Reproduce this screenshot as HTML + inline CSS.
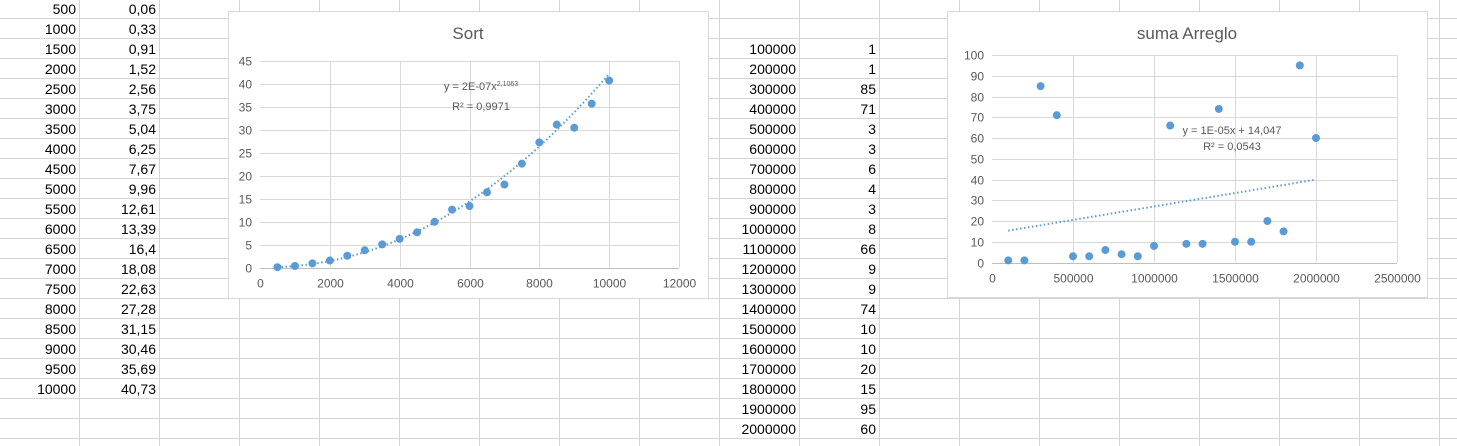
<!DOCTYPE html>
<html><head><meta charset="utf-8">
<style>
html,body{margin:0;padding:0;background:#fff;width:1457px;height:446px;overflow:hidden;font-family:"Liberation Sans",sans-serif}
svg text{font-family:"Liberation Sans",sans-serif}
</style></head>
<body>
<svg id="s" width="1457" height="446" xmlns="http://www.w3.org/2000/svg"></svg>
<script>
const sortN=[500,1000,1500,2000,2500,3000,3500,4000,4500,5000,5500,6000,6500,7000,7500,8000,8500,9000,9500,10000];
const sortT=[0.06,0.33,0.91,1.52,2.56,3.75,5.04,6.25,7.67,9.96,12.61,13.39,16.4,18.08,22.63,27.28,31.15,30.46,35.69,40.73];
const sortTLabels=["0,06","0,33","0,91","1,52","2,56","3,75","5,04","6,25","7,67","9,96","12,61","13,39","16,4","18,08","22,63","27,28","31,15","30,46","35,69","40,73"];
const sumN=[100000,200000,300000,400000,500000,600000,700000,800000,900000,1000000,1100000,1200000,1300000,1400000,1500000,1600000,1700000,1800000,1900000,2000000];
const sumT=[1,1,85,71,3,3,6,4,3,8,66,9,9,74,10,10,20,15,95,60];
const yTicks1=[0,5,10,15,20,25,30,35,40,45];
const xTicks1=[0,2000,4000,6000,8000,10000,12000];
const yTicks2=[0,10,20,30,40,50,60,70,80,90,100];
const xTicks2=[0,500000,1000000,1500000,2000000,2500000];

const S=document.getElementById('s');
const NS='http://www.w3.org/2000/svg';
function mk(tag,attrs,parent){const e=document.createElementNS(NS,tag);for(const k in attrs)e.setAttribute(k,attrs[k]);(parent||S).appendChild(e);return e;}

for(let k=0;k<=22;k++){const y=18.5+20*k;
 const l=mk('line',{x1:0,x2:1457,y1:y,y2:y,stroke:'#d4d4d4','stroke-width':1});
 
 }
for(let k=0;k<=17;k++){const x=79.5+80*k;
 const l=mk('line',{x1:x,x2:x,y1:0,y2:446,stroke:'#d4d4d4','stroke-width':1});
 
 }
function cell(txt,xr,row,name){const t=mk('text',{x:xr,y:9+20*row+5,'text-anchor':'end','font-size':'14px',fill:'#000'});t.textContent=txt;
 
 }
sortN.forEach((v,i)=>{cell(String(v),76,i,'cell-sort-n');cell(sortTLabels[i],156,i,'cell-sort-time');});
sumN.forEach((v,i)=>{cell(String(v),796,i+2,'cell-sum-n');cell(String(sumT[i]),876,i+2,'cell-sum-time');});

function chart(o){
 const g=mk('g',{});
 
 
 mk('rect',{x:o.bx+0.5,y:o.by+0.5,width:o.bw,height:o.bh,fill:'#fff',stroke:'#d9d9d9'},g);
 const t=mk('text',{x:o.bx+o.bw/2,y:o.by+28,'text-anchor':'middle','font-size':'17px',fill:'#595959'},g);t.textContent=o.title;
 
 
 const X=v=>o.x0+(v-o.xmin)/(o.xmax-o.xmin)*(o.x1-o.x0);
 const Y=v=>o.y0-(v-o.ymin)/(o.ymax-o.ymin)*(o.y0-o.y1);
 o.yt.forEach(v=>{const y=Math.round(Y(v))+0.5;
  if(v!==o.ymin){const l=mk('line',{x1:o.x0,x2:o.x1,y1:y,y2:y,stroke:'#d9d9d9'},g);}
  const tx=mk('text',{x:o.x0-8,y:y+4,'text-anchor':'end','font-size':'12px',fill:'#595959'},g);tx.textContent=v;
  
  });
 o.xt.forEach(v=>{const x=Math.round(X(v))+0.5;
  if(v!==o.xmin){const l=mk('line',{x1:x,x2:x,y1:o.y1,y2:o.y0,stroke:'#d9d9d9'},g);}
  const tx=mk('text',{x:x,y:o.y0+20,'text-anchor':'middle','font-size':'12px',fill:'#595959'},g);tx.textContent=v;
  
  });
 const ax=mk('line',{x1:o.x0,x2:o.x1,y1:Math.round(o.y0)+0.5,y2:Math.round(o.y0)+0.5,stroke:'#bfbfbf'},g);
 
 
 let pts=[];const a=o.xs[0],b=o.xs[o.xs.length-1];
 for(let i=0;i<=80;i++){const xv=a+(b-a)*i/80;pts.push(X(xv).toFixed(1)+','+Y(o.trend(xv)).toFixed(1));}
 const pl=mk('polyline',{points:pts.join(' '),fill:'none',stroke:'#5b9bd5','stroke-width':2,'stroke-dasharray':'1.5 2.5'},g);
 
 
 o.xs.forEach((xv,i)=>{const c=mk('circle',{cx:X(xv),cy:Y(o.ys[i]),r:4,fill:'#5b9bd5'},g);
  
  });
 o.eq.forEach((e,i)=>{const tx=mk('text',{x:o.ex,y:o.ey+16*i,'text-anchor':'middle','font-size':'11px',fill:'#595959'},g);tx.innerHTML=e;
  
  });
}
function powerFit(xs,ys){let n=xs.length,sx=0,sy=0,sxx=0,sxy=0;xs.forEach((x,i)=>{const lx=Math.log(x),ly=Math.log(ys[i]);sx+=lx;sy+=ly;sxx+=lx*lx;sxy+=lx*ly;});
 const b=(n*sxy-sx*sy)/(n*sxx-sx*sx),a=Math.exp((sy-b*sx)/n);return x=>a*Math.pow(x,b);}
function linFit(xs,ys){let n=xs.length,sx=0,sy=0,sxx=0,sxy=0;xs.forEach((x,i)=>{sx+=x;sy+=ys[i];sxx+=x*x;sxy+=x*ys[i];});
 const m=(n*sxy-sx*sy)/(n*sxx-sx*sx),c=(sy-m*sx)/n;return x=>m*x+c;}

chart({name:'sort-chart',title:'Sort',bx:228,by:11,bw:480,bh:287,x0:260,x1:679,y0:267.5,y1:61,xmin:0,xmax:12000,ymin:0,ymax:45,
 xt:xTicks1,yt:yTicks1,xs:sortN,ys:sortT,trend:powerFit(sortN,sortT),
 eq:['y = 2E-07x<tspan dy="-4" font-size="7px">2,1063</tspan>','<tspan dy="4">R² = 0,9971</tspan>'],ex:481,ey:90});
chart({name:'suma-arreglo-chart',title:'suma Arreglo',bx:947,by:11,bw:480,bh:286,x0:992,x1:1397,y0:262.5,y1:55,xmin:0,xmax:2500000,ymin:0,ymax:100,
 xt:xTicks2,yt:yTicks2,xs:sumN,ys:sumT,trend:linFit(sumN,sumT),
 eq:['y = 1E-05x + 14,047','R² = 0,0543'],ex:1232,ey:134});
</script>
</body></html>
